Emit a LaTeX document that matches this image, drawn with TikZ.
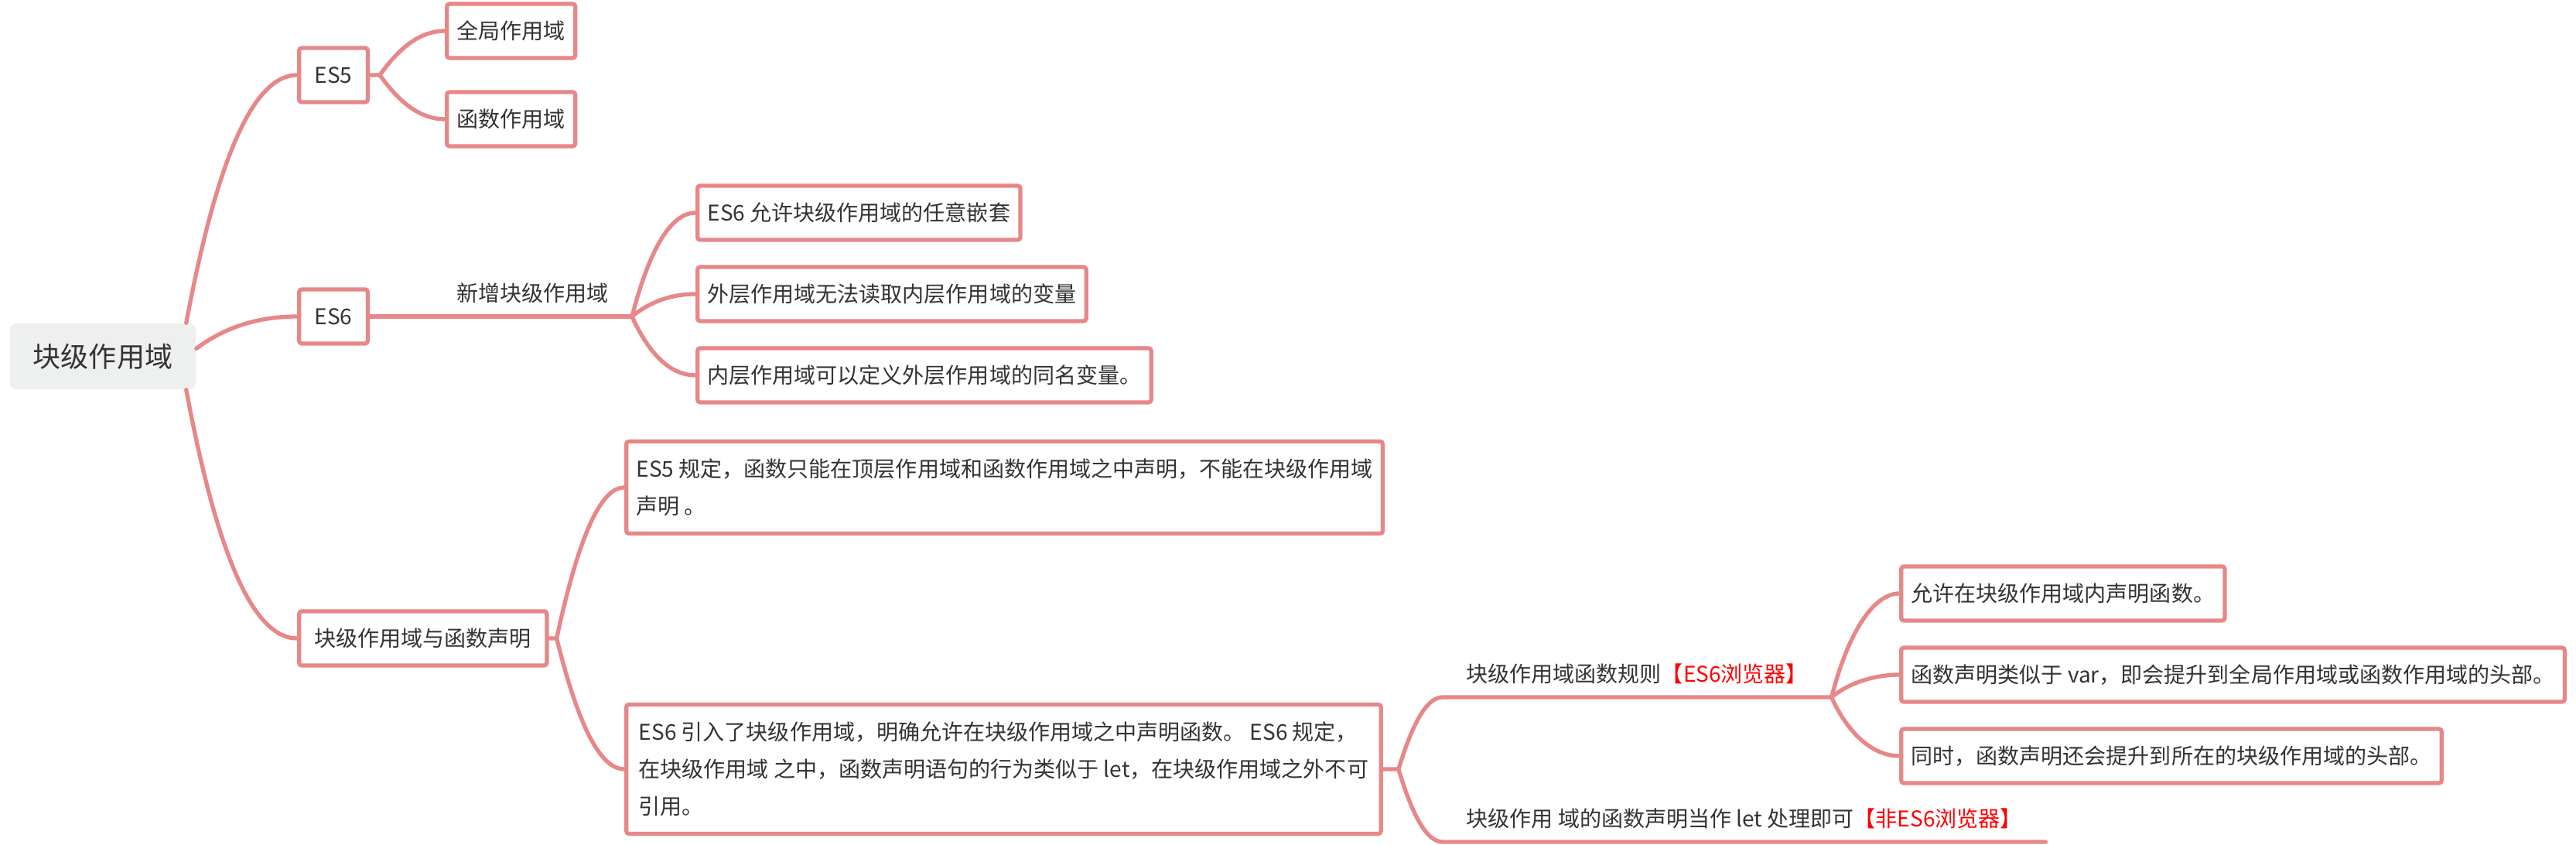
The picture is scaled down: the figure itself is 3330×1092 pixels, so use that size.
\documentclass[tikz,border=0pt]{standalone}
\usepackage{fontspec}
\setmainfont{Noto Sans CJK SC}
\begin{document}
\begin{tikzpicture}[x=0.01cm,y=-0.01cm,font=\fontsize{7.97pt}{13.66pt}\selectfont,
  lien/.style={draw=rose,line width=1.5pt,line cap=round},
  cadre/.style={draw=rose,line width=1.5pt,rounded corners=1pt,fill=white,text=gris,inner ysep=0pt,anchor=west},
  boite/.style={cadre,inner xsep=0.13cm,minimum height=0.7cm,text height=0.232cm,text depth=0.02cm},
  niveau/.style={boite,inner xsep=0.2cm,minimum width=0.88cm},
  bloc/.style={cadre,inner xsep=0.13cm,align=left,minimum width=9.75cm},
  etiquette/.style={inner xsep=0.3cm,inner ysep=0pt,text=gris,text height=0.232cm,text depth=0.184cm}]
\definecolor{rose}{RGB}{231,135,135}
\definecolor{gris}{RGB}{51,51,51}
\definecolor{fond}{RGB}{238,240,239}
\useasboundingbox (0,0) rectangle (3330,1092);
\node[fill=fond,rounded corners=0.08cm,text=gris,minimum width=2.4cm,minimum height=0.85cm,
  font=\fontsize{10.24pt}{12pt}\selectfont] (racine) at (133,460.5) {块级作用域};
\node[niveau] (es5) at (384,97) {ES5};
\node[niveau] (es6) at (384,409) {ES6};
\node[niveau] (decl) at (384,825) {块级作用域与函数声明};
\draw[lien] ([xshift=-0.13cm]racine.north east) .. controls +(40,-214) and +(-56,0) .. (es5.west);
\draw[lien] ([yshift=0.1cm]racine.east) .. controls +(37,-28) and +(-49,0) .. (es6.west);
\draw[lien] ([xshift=-0.13cm]racine.south east) .. controls +(40,215) and +(-56,0) .. (decl.west);
% ES5
\node[boite] (global) at (575,40) {全局作用域};
\node[boite] (fonction) at (575,154) {函数作用域};
\draw[lien] (es5.east) -- ++(13,0) coordinate (fourcheA) .. controls +(27,-38) and +(-30,0) .. (global.west);
\draw[lien] (fourcheA) .. controls +(27,38) and +(-30,0) .. (fonction.west);
% ES6
\node[etiquette,anchor=south east] (nouveau) at (817,409) {新增块级作用域};
\draw[lien] (es6.east) -- (nouveau.south east);
\foreach \nom/\y/\cy/\texte in {imbrA/275/-89/ES6 允许块级作用域的任意嵌套,
    imbrB/380/-19/外层作用域无法读取内层作用域的变量,
    imbrC/485/51/内层作用域可以定义外层作用域的同名变量。} {
  \node[boite] (\nom) at (899,\y) {\texte};
  \draw[lien] (nouveau.south east) .. controls +(23,\cy) and +(-31,0) .. (\nom.west);
}
% declarations de fonctions
\node[bloc,minimum height=1.19cm] (regleES5) at (807,630)
  {ES5 规定，函数只能在顶层作用域和函数作用域之中声明，不能在块级作用域\\声明 。};
\node[bloc,minimum height=1.67cm] (regleES6) at (807,994)
  {ES6 引入了块级作用域，明确允许在块级作用域之中声明函数。 ES6 规定，\\在块级作用域 之中，函数声明语句的行为类似于 let，在块级作用域之外不可\\引用。};
\draw[lien] (decl.east) -- ++(10,0) coordinate (fourche) .. controls +(28,-130) and +(-31,0) .. (regleES5.west);
\draw[lien] (fourche) .. controls +(28,113) and +(-31,0) .. (regleES6.west);
\node[etiquette,anchor=south west] (navES6) at (1865,901) {块级作用域函数规则\textcolor{red}{【ES6浏览器】}};
\node[etiquette,anchor=south west] (navAutre) at (1865,1088) {块级作用 域的函数声明当作 let 处理即可\textcolor{red}{【非ES6浏览器】}};
\draw[lien] (regleES6.east) -- ++(20,0) coordinate (fourcheB) .. controls +(19,-62) and +(-20,0) .. (navES6.south west) -- (navES6.south east);
\draw[lien] (fourcheB) .. controls +(19,63) and +(-20,0) .. (navAutre.south west) -- (navAutre.south east);
\foreach \nom/\y/\cy/\texte in {permis/767/-89/允许在块级作用域内声明函数。,
    levage/872/-19/函数声明类似于 var，即会提升到全局作用域或函数作用域的头部。,
    tete/977/51/同时，函数声明还会提升到所在的块级作用域的头部。} {
  \node[boite] (\nom) at (2455,\y) {\texte};
  \draw[lien] (navES6.south east) .. controls +(23,\cy) and +(-31,0) .. (\nom.west);
}
\end{tikzpicture}
\end{document}
